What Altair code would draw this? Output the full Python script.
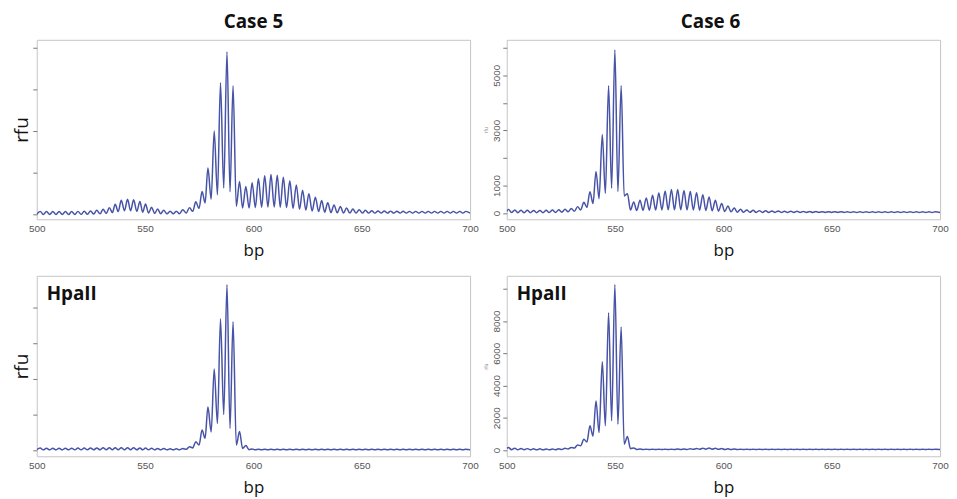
import altair as alt
import pandas as pd

# ---- bp positions of peaks / valleys (left column: Case 5, right column: Case 6) ----
L_PEAK_BP = [501.6, 504.5, 507.4, 510.3, 513.2, 516.1, 519.0, 521.9, 524.8, 527.7,
             530.6, 533.5, 536.2, 539.0, 541.9, 544.7, 547.6, 550.2, 553.0, 555.8,
             558.6, 561.6, 564.4, 567.4, 570.5, 573.4, 576.3, 579.0, 581.9, 584.8,
             587.8, 590.6, 593.6, 596.5, 599.4, 602.3, 605.2, 608.1, 611.0, 613.8,
             616.8, 619.8, 622.7, 625.6, 628.6, 631.5, 634.3, 637.2, 640.1, 643.0,
             645.9, 648.8, 651.7, 654.6, 657.5, 660.4, 663.3, 666.2, 669.1, 672.0,
             674.9, 677.8, 680.7, 683.6, 686.5, 689.4, 692.3, 695.2, 698.1]
L_VALLEY_BP = [500.0, 503.0, 506.0, 508.9, 511.8, 514.7, 517.6, 520.5, 523.4, 526.3,
               529.2, 532.1, 534.9, 537.6, 540.5, 543.3, 546.2, 548.9, 551.6, 554.4,
               557.2, 560.1, 563.0, 565.9, 569.0, 572.0, 574.9, 577.7, 580.5, 583.4,
               586.3, 589.2, 592.1, 595.0, 598.0, 600.9, 603.8, 606.7, 609.6, 612.4,
               615.3, 618.3, 621.3, 624.2, 627.1, 630.1, 632.9, 635.8, 638.7, 641.6,
               644.5, 647.4, 650.3, 653.2, 656.1, 659.0, 661.9, 664.8, 667.7, 670.6,
               673.5, 676.4, 679.3, 682.2, 685.1, 688.0, 690.9, 693.8, 696.7, 700.0]
R_PEAK_BP = [500.8, 503.7, 506.6, 509.5, 512.4, 515.3, 518.2, 521.1, 524.0, 526.9,
             529.8, 532.7, 535.6, 538.4, 541.2, 544.1, 547.0, 549.9, 552.8, 555.7,
             558.6, 561.5, 564.4, 567.3, 570.2, 573.1, 576.0, 578.9, 581.8, 584.7,
             587.6, 590.5, 593.4, 596.3, 599.2, 602.1, 605.0, 607.9, 610.8, 613.7,
             616.6, 619.5, 622.4, 625.3, 628.2, 631.1, 634.0, 636.9, 639.8, 642.7,
             645.6, 648.5, 651.4, 654.3, 657.2, 660.1, 663.0, 665.9, 668.8, 671.7,
             674.6, 677.5, 680.4, 683.3, 686.2, 689.1, 692.0, 694.9, 697.8]
R_VALLEY_BP = [500.0, 502.2, 505.1, 508.0, 510.9, 513.8, 516.7, 519.6, 522.5, 525.4,
               528.3, 531.2, 534.1, 537.0, 539.8, 542.6, 545.5, 548.4, 551.3, 554.2,
               557.1, 560.0, 562.9, 565.8, 568.7, 571.6, 574.5, 577.4, 580.3, 583.2,
               586.1, 589.0, 591.9, 594.8, 597.7, 600.6, 603.5, 606.4, 609.3, 612.2,
               615.1, 618.0, 620.9, 623.8, 626.7, 629.6, 632.5, 635.4, 638.3, 641.2,
               644.1, 647.0, 649.9, 652.8, 655.7, 658.6, 661.5, 664.4, 667.3, 670.2,
               673.1, 676.0, 678.9, 681.8, 684.7, 687.6, 690.5, 693.4, 696.3, 700.0]

# ---- rfu at peaks / valleys ----
CASE5_PEAK = [80, 78, 76, 76, 76, 78, 80, 85, 90, 105,
              130, 170, 250, 345, 372, 358, 318, 255, 180, 135,
              105, 85, 85, 120, 170, 310, 560, 1120, 2010, 3170,
              3910, 3100, 800, 680, 770, 870, 935, 965, 950, 900,
              815, 715, 590, 505, 420, 340, 285, 235, 195, 160,
              135, 118, 105, 95, 90, 88, 86, 84, 82, 80,
              80, 80, 80, 80, 80, 80, 80, 80, 80]
CASE5_VALLEY = [10, 5, 5, 5, 5, 5, 5, 8, 10, 15,
                20, 30, 50, 75, 95, 95, 80, 60, 40, 30,
                25, 20, 20, 25, 40, 80, 150, 280, 375, 480,
                640, 550, 200, 160, 160, 170, 180, 185, 185, 180,
                170, 150, 130, 110, 90, 75, 60, 50, 45, 40,
                38, 38, 38, 38, 38, 38, 38, 38, 38, 38,
                38, 38, 38, 38, 38, 38, 38, 38, 38, 38]
HPA5_PEAK = [55, 50, 50, 50, 50, 52, 55, 55, 58, 60,
             62, 65, 65, 65, 65, 62, 60, 55, 50, 45,
             40, 35, 35, 40, 95, 235, 560, 1210, 2280, 3690,
             4650, 3610, 520, 125, 30, 22, 20, 20, 20, 20,
             20, 20, 20, 20, 20, 20, 20, 20, 20, 20,
             20, 20, 20, 20, 20, 20, 20, 20, 20, 20,
             20, 20, 20, 20, 20, 20, 20, 20, 20]
HPA5_VALLEY = [10, 5, 5, 5, 5, 5, 5, 5, 5, 5,
               5, 5, 5, 5, 5, 5, 5, 5, 5, 5,
               5, 5, 5, 5, 20, 60, 140, 330, 510, 745,
               1000, 605, 140, 45, 10, 5, 5, 5, 5, 5,
               5, 5, 5, 5, 5, 5, 5, 5, 5, 5,
               5, 5, 5, 5, 5, 5, 5, 5, 5, 5,
               5, 5, 5, 5, 5, 5, 5, 5, 5, 5]
CASE6_PEAK = [130, 110, 100, 95, 90, 90, 95, 105, 115, 135,
              160, 230, 390, 770, 1505, 2850, 4620, 5920, 4620, 700,
              400, 460, 545, 640, 725, 800, 855, 855, 820, 780,
              735, 665, 580, 460, 340, 250, 180, 135, 110, 95,
              85, 80, 75, 70, 65, 60, 58, 55, 52, 50,
              48, 46, 45, 44, 43, 42, 41, 40, 40, 40,
              40, 40, 40, 40, 40, 40, 40, 40, 40]
CASE6_VALLEY = [60, 15, 10, 10, 10, 10, 10, 15, 20, 30,
                40, 60, 110, 200, 340, 520, 710, 900, 780, 620,
                110, 90, 95, 100, 105, 110, 115, 115, 115, 110,
                105, 100, 90, 80, 65, 50, 40, 30, 25, 22,
                20, 20, 20, 20, 20, 20, 20, 20, 20, 20,
                20, 20, 20, 20, 20, 20, 20, 20, 20, 20,
                20, 20, 20, 20, 20, 20, 20, 20, 20, 20]
HPA6_PEAK = [150, 110, 95, 85, 75, 70, 60, 60, 70, 110,
             160, 310, 660, 1500, 3040, 5480, 8520, 10260, 7630, 830,
             130, 60, 50, 50, 50, 50, 50, 55, 60, 70,
             90, 110, 120, 110, 90, 70, 60, 50, 50, 50,
             50, 50, 50, 50, 50, 50, 50, 50, 50, 50,
             50, 50, 50, 50, 50, 50, 50, 50, 50, 50,
             50, 50, 50, 50, 50, 50, 50, 50, 50]
HPA6_VALLEY = [100, 20, 15, 15, 10, 10, 10, 10, 15, 30,
               60, 120, 260, 500, 860, 1080, 1500, 1810, 1600, 360,
               80, 30, 25, 25, 25, 25, 25, 25, 30, 35,
               40, 45, 50, 45, 40, 30, 25, 25, 25, 25,
               25, 25, 25, 25, 25, 25, 25, 25, 25, 25,
               25, 25, 25, 25, 25, 25, 25, 25, 25, 25,
               25, 25, 25, 25, 25, 25, 25, 25, 25, 25]

X_TICKS = [500, 550, 600, 650, 700]
LINE_COLOR = "#4753a6"
TITLE_FONT = "Open Sans"


def trace(peak_bp, valley_bp, peaks, valleys):
    assert len(peak_bp) == len(peaks) and len(valley_bp) == len(valleys) == len(peaks) + 1
    xs, ys = [], []
    for i in range(len(valleys)):
        xs.append(valley_bp[i]); ys.append(valleys[i])
        if i < len(peaks):
            xs.append(peak_bp[i]); ys.append(peaks[i])
    return pd.DataFrame({"bp": xs, "rfu": ys})


def panel(df, ydom, yticks, left, height, title=None, title_dx=0, label_vals=None, hpa=False):
    if left:
        yaxis = alt.Axis(values=yticks, labels=False, ticks=True, tickSize=4, tickColor="#777777",
                         domain=False, grid=False, title="rfu", titleFontSize=19, titleFont=TITLE_FONT,
                         titleFontWeight="normal", titleColor="#111111", titlePadding=1)
    else:
        cond = " || ".join(f"datum.value == {v}" for v in label_vals)
        yaxis = alt.Axis(values=yticks, format="d", labelExpr=f"({cond}) ? datum.label : ''",
                         labelAngle=270, labelFontSize=10, labelColor="#555555", labelPadding=1,
                         labelOverlap=False, tickSize=4, tickColor="#777777", domain=False, grid=False,
                         title="rfu", titleFontSize=5, titleColor="#888888", titleFontWeight="normal",
                         titlePadding=3)
    xaxis = alt.Axis(values=X_TICKS, format="d", labelFlush=False, ticks=False, domain=False, grid=False,
                     labelFontSize=10, labelColor="#555555", labelPadding=4, labelOverlap=False,
                     title="bp", titleFontSize=17, titleFont=TITLE_FONT, titleFontWeight="normal",
                     titleColor="#111111", titlePadding=10)
    line = alt.Chart(df).mark_line(color=LINE_COLOR, strokeWidth=1.5, interpolate="monotone", clip=True).encode(
        x=alt.X("bp:Q", scale=alt.Scale(domain=[500, 700], nice=False, zero=False), axis=xaxis),
        y=alt.Y("rfu:Q", scale=alt.Scale(domain=ydom, nice=False, zero=False), axis=yaxis),
    )
    layers = [line]
    if hpa:
        txt = alt.Chart(pd.DataFrame({"t": ["HpaII"]})).mark_text(
            align="left", baseline="alphabetic", fontSize=19, fontWeight="bold", font=TITLE_FONT,
            color="#111111").encode(text="t:N", x=alt.value(10), y=alt.value(24))
        layers.append(txt)
    ch = alt.layer(*layers).properties(width=437, height=height)
    if title:
        ch = ch.properties(title=alt.Title(title, fontSize=19, fontWeight="bold", font=TITLE_FONT,
                                           offset=8, anchor="middle", color="#111111", dx=title_dx))
    return ch


A = panel(trace(L_PEAK_BP, L_VALLEY_BP, CASE5_PEAK, CASE5_VALLEY), [-110, 4200],
          [0, 1000, 2000, 3000, 4000], True, 181, title="Case 5")
B = panel(trace(R_PEAK_BP, R_VALLEY_BP, CASE6_PEAK, CASE6_VALLEY), [-230, 6290],
          [0, 1000, 2000, 3000, 4000, 5000, 6000], False, 181, title="Case 6", title_dx=-13,
          label_vals=[0, 1000, 3000, 5000])
C = panel(trace(L_PEAK_BP, L_VALLEY_BP, HPA5_PEAK, HPA5_VALLEY), [-176, 4900],
          [0, 1000, 2000, 3000, 4000], True, 182, hpa=True)
D = panel(trace(R_PEAK_BP, R_VALLEY_BP, HPA6_PEAK, HPA6_VALLEY), [-390, 10810],
          [0, 2000, 4000, 6000, 8000, 10000], False, 182, hpa=True,
          label_vals=[0, 2000, 4000, 6000, 8000])

chart = alt.concat(A, B, C, D, columns=2, spacing={"row": 57, "column": 37}, bounds="flush").configure_view(
    stroke="#c4c4c4", strokeWidth=1
).properties(padding={"left": 4, "top": 2, "right": 0, "bottom": 0}, background="white")

chart.save("out.html", embed_options={"renderer": "svg", "actions": False})
